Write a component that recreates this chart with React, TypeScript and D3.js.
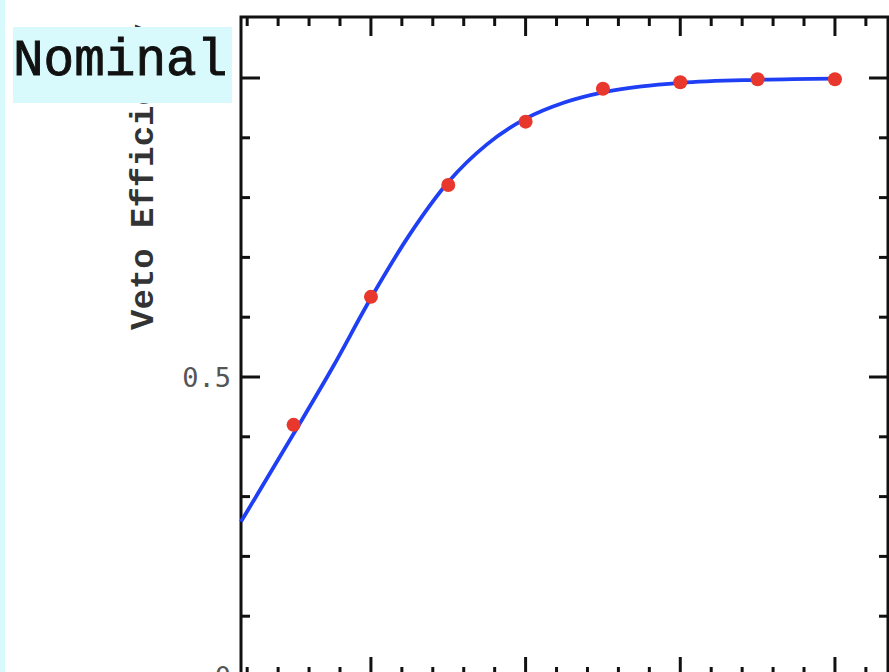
import React from "react";
import * as d3 from "d3";

// Measured efficiency points (x in axis units)
const pointX = [0.5, 1.0, 1.5, 2.0, 2.5, 3.0, 3.5, 4.0];
const pointY = [0.42, 0.634, 0.821, 0.927, 0.982, 0.993, 0.998, 0.998];

// Fitted curve
const curveX = [0.16, 0.5, 0.75, 1.0, 1.25, 1.5, 1.75, 2.0, 2.25, 2.5, 2.75, 3.0, 3.5, 4.0];
const curveY = [0.258, 0.405, 0.515, 0.632, 0.738, 0.826, 0.889, 0.932, 0.959, 0.976, 0.986, 0.992, 0.997, 0.999];

const yTickLabels = ["0", "0.5"];
const yLabelValues = [0, 0.5];
const legendText = "Nominal";
const yTitle = "Veto Efficiency";

const W = 889;
const H = 672;
const CYAN = "#d8fafc";

export default function App() {
  const left = 241, right = 888, top = 17, bottom = 676;
  const x = d3.scaleLinear().domain([0.16, 4.343]).range([left, right]);
  const y = d3.scaleLinear().domain([0, 1.102]).range([bottom, top]);

  const line = d3
    .line<number>()
    .x((_, i) => x(curveX[i]))
    .y((d) => y(d))
    .curve(d3.curveMonotoneX);

  const xMinor = d3.range(0.2, 4.35, 0.2).filter((v) => Math.abs(v - Math.round(v)) > 1e-6);
  const xMajor = [1, 2, 3, 4];
  const yMinor = d3.range(0.1, 1.1, 0.1).filter((v) => Math.abs(v - 0.5) > 1e-6 && Math.abs(v - 1) > 1e-6);
  const yMajor = [0, 0.5, 1];
  const MAJ = 19, MIN = 9;

  return (
    <svg
      width={W}
      height={H}
      style={{ position: "absolute", left: 0, top: 0, background: "#fff" }}
    >
      <rect x={0} y={0} width={W} height={H} fill="#fff" />
      <rect x={0} y={0} width={5} height={H} fill={CYAN} />

      {/* ticks */}
      <g stroke="#111" strokeWidth={3}>
        {xMinor.map((v, i) => (
          <g key={"xm" + i}>
            <line x1={x(v)} x2={x(v)} y1={top} y2={top + MIN} />
            <line x1={x(v)} x2={x(v)} y1={bottom} y2={bottom - MIN} />
          </g>
        ))}
        {xMajor.map((v, i) => (
          <g key={"xM" + i}>
            <line x1={x(v)} x2={x(v)} y1={top} y2={top + MAJ} />
            <line x1={x(v)} x2={x(v)} y1={bottom} y2={bottom - MAJ} />
          </g>
        ))}
        {yMinor.map((v, i) => (
          <g key={"ym" + i}>
            <line x1={left} x2={left + MIN} y1={y(v)} y2={y(v)} />
            <line x1={right} x2={right - MIN} y1={y(v)} y2={y(v)} />
          </g>
        ))}
        {yMajor.map((v, i) => (
          <g key={"yM" + i}>
            <line x1={left} x2={left + MAJ} y1={y(v)} y2={y(v)} />
            <line x1={right} x2={right - MAJ} y1={y(v)} y2={y(v)} />
          </g>
        ))}
      </g>

      {/* frame */}
      <rect x={left} y={top} width={right - left} height={bottom - top} fill="none" stroke="#111" strokeWidth={3} />

      {/* y tick labels */}
      {yLabelValues.map((v, i) => (
        <text
          key={"yl" + i}
          x={231}
          y={y(v)}
          dy="0.36em"
          textAnchor="end"
          fontFamily="DejaVu Sans Mono"
          fontSize={27}
          fill="#555"
        >
          {yTickLabels[i]}
        </text>
      ))}

      {/* y title */}
      <text
        transform={`translate(153,330) rotate(-90)`}
        textAnchor="start"
        fontFamily="Liberation Mono"
        fontWeight="bold"
        fontSize={34}
        fill="#333"
      >
        {yTitle}
      </text>

      {/* curve */}
      <path d={line(curveY) || ""} fill="none" stroke="#1f3ff5" strokeWidth={3.8} />

      {/* points */}
      {pointX.map((v, i) => (
        <circle key={"p" + i} cx={x(v)} cy={y(pointY[i])} r={7} fill="#e8372c" />
      ))}

      {/* legend box */}
      <rect x={13} y={27} width={219} height={76} fill={CYAN} />
      <text
        x={13}
        y={75}
        fontFamily="Liberation Mono"
        fontSize={51}
        fill="#111"
        stroke="#111"
        strokeWidth={0.9}
      >
        {legendText}
      </text>
    </svg>
  );
}
